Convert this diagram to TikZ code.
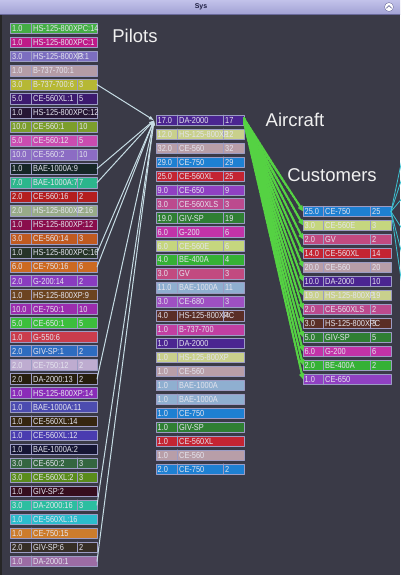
\documentclass[tikz,border=0pt]{standalone}
\usepackage{fontspec}
\setmainfont{Liberation Sans}
\newfontfamily\cellfont{Liberation Sans}[FakeStretch=0.84]
\usetikzlibrary{arrows.meta,calc,positioning}
% window
\definecolor{bg}{HTML}{3A3A47}
\definecolor{bartop}{HTML}{C2C2EA}
\definecolor{barbot}{HTML}{A2A2D4}
\definecolor{barline}{HTML}{6A6A9C}
\definecolor{bartext}{HTML}{1C1C40}
\definecolor{cellline}{HTML}{9C9CC4}
\definecolor{celltxt}{HTML}{E4E4EE}
\definecolor{crewlink}{HTML}{C6DCE4}
\definecolor{salegreen}{HTML}{55D243}
\definecolor{feedcyan}{HTML}{3CC2D2}
% aircraft types
\definecolor{tDA}{HTML}{4B2591}
\definecolor{tXP}{HTML}{C9D08C}
\definecolor{tCE560}{HTML}{B89EA8}
\definecolor{tCE750}{HTML}{1E80D2}
\definecolor{tXL}{HTML}{C42432}
\definecolor{tCE650}{HTML}{9040C2}
\definecolor{tXLS}{HTML}{BC4A8E}
\definecolor{tGIV}{HTML}{2F7F33}
\definecolor{tG200}{HTML}{C233A8}
\definecolor{tCE560E}{HTML}{C5D67E}
\definecolor{tBE400}{HTML}{35B135}
\definecolor{tGV}{HTML}{C24A80}
\definecolor{tBAE}{HTML}{8FAFD0}
\definecolor{tCE680}{HTML}{9E50C2}
\definecolor{tXPC}{HTML}{5A2E26}
\definecolor{tB737}{HTML}{C13FA2}
% pilots
\definecolor{leaf}{HTML}{44AE44}
\definecolor{berry}{HTML}{BE1A88}
\definecolor{iris}{HTML}{7C6EC0}
\definecolor{rosegray}{HTML}{B49CA6}
\definecolor{mustard}{HTML}{B6B834}
\definecolor{plum}{HTML}{3C1A6E}
\definecolor{ink}{HTML}{261634}
\definecolor{moss}{HTML}{7C9E2C}
\definecolor{orchid}{HTML}{CA4CB0}
\definecolor{amethyst}{HTML}{8C6CC4}
\definecolor{pine}{HTML}{162626}
\definecolor{jade}{HTML}{2CB68C}
\definecolor{brick}{HTML}{B41E1E}
\definecolor{sage}{HTML}{98AA88}
\definecolor{wine}{HTML}{8A0E4C}
\definecolor{rust}{HTML}{C05A20}
\definecolor{slate}{HTML}{263428}
\definecolor{tangerine}{HTML}{CC6A22}
\definecolor{violet}{HTML}{8A3CC0}
\definecolor{umber}{HTML}{6C4420}
\definecolor{grape}{HTML}{9C2CAE}
\definecolor{lime}{HTML}{3CBE3C}
\definecolor{coral}{HTML}{CA3C4C}
\definecolor{cobalt}{HTML}{2E6CC0}
\definecolor{lilac}{HTML}{BEACD0}
\definecolor{soot}{HTML}{261E0E}
\definecolor{purple}{HTML}{8A2CB8}
\definecolor{indigo}{HTML}{4C4CB0}
\definecolor{bark}{HTML}{362610}
\definecolor{blueviolet}{HTML}{4A3CB0}
\definecolor{navy}{HTML}{161634}
\definecolor{fern}{HTML}{346640}
\definecolor{grass}{HTML}{5A8C1C}
\definecolor{maroon}{HTML}{360E1E}
\definecolor{teal}{HTML}{2CBEA0}
\definecolor{aqua}{HTML}{2CBCCC}
\definecolor{tan}{HTML}{CC7C2C}
\definecolor{smoke}{HTML}{362E26}
\definecolor{mauve}{HTML}{9C6CA4}

\begin{document}
\begin{tikzpicture}[x=1pt,y=-1pt,>=Latex,line cap=round,line join=round]
  \tikzset{cell/.style={draw=cellline,line width=0.6pt,minimum width=87pt,minimum height=10.5pt,inner sep=0pt,outer sep=0pt},
    celltext/.style={anchor=west,inner sep=0pt,text=celltxt,font=\cellfont\fontsize{8.8}{8.8}\selectfont,text height=6.3pt,text depth=0pt},
    divline/.style={draw=cellline,line width=0.6pt},
    heading/.style={text=white!94!black,font=\fontsize{18.5}{18.5}\selectfont},
    crew/.style={draw=crewlink,line width=1pt,-{Latex[length=5pt,width=4pt]}},
    sale/.style={draw=salegreen,line width=1.9pt,dash pattern=on 2.6pt off 0.9pt,-{Latex[length=5pt,width=5.5pt]}},
    feed/.style={draw=feedcyan,line width=0.8pt}}
  \useasboundingbox (0,0) rectangle (400,575);
  \fill[bg] (0,0) rectangle (400,575);
  \fill[black!85] (0,14) rectangle (2,575);
  % title bar
  \shade[top color=bartop,bottom color=barbot] (0,0) rectangle (400,14);
  \draw[barline] (0,14) -- (400,14);
  \node[font=\bfseries\fontsize{7}{7}\selectfont,text=bartext] (sys) at (201,7) {Sys};
  \node[circle,draw=barline,fill=white,minimum size=9pt,inner sep=0pt] (hide) at (389,7) {};
  \draw[barline,line width=0.8pt] ([shift={(-2.5,1.2)}]hide.center) -- ([shift={(0,-1.4)}]hide.center) -- ([shift={(2.5,1.2)}]hide.center);
  % headings
  \node[heading] (pilotsL) at (135,35.5) {Pilots};
  \node[heading] (aircraftL) at (295,120) {Aircraft};
  \node[heading] (customersL) at (332,175) {Customers};
  % Pilots
  \foreach \i/\col/\val/\lbl/\cnt in {1/leaf/1.0/HS-125-800XPC:14/{},2/berry/1.0/HS-125-800XPC:1/{},3/iris/3.0/HS-125-800XP:1/3,4/rosegray/1.0/B-737-700:1/{},5/mustard/3.0/B-737-700:6/3,6/plum/5.0/CE-560XL:1/5,7/ink/1.0/HS-125-800XPC:12/{},8/moss/10.0/CE-560:1/10,9/orchid/5.0/CE-560:12/5,10/amethyst/10.0/CE-560:2/10,11/pine/1.0/BAE-1000A:9/{},12/jade/7.0/BAE-1000A:7/7,13/brick/2.0/CE-560:16/2,14/sage/2.0/HS-125-800XP:16/2,15/wine/1.0/HS-125-800XP:12/{},16/rust/3.0/CE-560:14/3,17/slate/1.0/HS-125-800XPC:16/{},18/tangerine/6.0/CE-750:16/6,19/violet/2.0/G-200:14/2,20/umber/1.0/HS-125-800XP:9/{},21/grape/10.0/CE-750:1/10,22/lime/5.0/CE-650:1/5,23/coral/1.0/G-550:6/{},24/cobalt/2.0/GIV-SP:1/2,25/lilac/2.0/CE-750:12/2,26/soot/2.0/DA-2000:13/2,27/purple/1.0/HS-125-800XP:14/{},28/indigo/1.0/BAE-1000A:11/{},29/bark/1.0/CE-560XL:14/{},30/blueviolet/1.0/CE-560XL:12/{},31/navy/1.0/BAE-1000A:2/{},32/fern/3.0/CE-650:2/3,33/grass/3.0/CE-560XL:2/3,34/maroon/1.0/GIV-SP:2/{},35/teal/3.0/DA-2000:16/3,36/aqua/1.0/CE-560XL:16/{},37/tan/1.0/CE-750:15/{},38/smoke/2.0/GIV-SP:6/2,39/mauve/1.0/DA-2000:1/{}}{
    \node[cell,fill=\col] (p\i) at (53.5,{28.5+(\i-1)*14.02}) {};
    \draw[divline] ([xshift=21pt]p\i.north west) -- ([xshift=21pt]p\i.south west);
    \ifx\cnt\empty\else\draw[divline] ([xshift=-20pt]p\i.north east) -- ([xshift=-20pt]p\i.south east);\fi
    \node[celltext] at ([xshift=2pt]p\i.west) {\val};
    \node[celltext] at ([xshift=23pt]p\i.west) {\lbl};
    \node[celltext] at ([xshift=-18pt]p\i.east) {\cnt};
  }
  % Aircraft
  \foreach \i/\col/\val/\lbl/\cnt in {1/tDA/17.0/DA-2000/17,2/tXP/12.0/HS-125-800XP/12,3/tCE560/32.0/CE-560/32,4/tCE750/29.0/CE-750/29,5/tXL/25.0/CE-560XL/25,6/tCE650/9.0/CE-650/9,7/tXLS/3.0/CE-560XLS/3,8/tGIV/19.0/GIV-SP/19,9/tG200/6.0/G-200/6,10/tCE560E/6.0/CE-560E/6,11/tBE400/4.0/BE-400A/4,12/tGV/3.0/GV/3,13/tBAE/11.0/BAE-1000A/11,14/tCE680/3.0/CE-680/3,15/tXPC/4.0/HS-125-800XPC/4,16/tB737/1.0/B-737-700/{},17/tDA/1.0/DA-2000/{},18/tXP/1.0/HS-125-800XP/{},19/tCE560/1.0/CE-560/{},20/tBAE/1.0/BAE-1000A/{},21/tBAE/1.0/BAE-1000A/{},22/tCE750/1.0/CE-750/{},23/tGIV/1.0/GIV-SP/{},24/tXL/1.0/CE-560XL/{},25/tCE560/1.0/CE-560/{},26/tCE750/2.0/CE-750/2}{
    \node[cell,fill=\col,minimum width=88pt] (a\i) at (200,{120.3+(\i-1)*13.95}) {};
    \draw[divline] ([xshift=21pt]a\i.north west) -- ([xshift=21pt]a\i.south west);
    \ifx\cnt\empty\else\draw[divline] ([xshift=-21pt]a\i.north east) -- ([xshift=-21pt]a\i.south east);\fi
    \node[celltext] at ([xshift=1.5pt]a\i.west) {\val};
    \node[celltext] at ([xshift=23pt]a\i.west) {\lbl};
    \node[celltext] at ([xshift=-19pt]a\i.east) {\cnt};
  }
  % Customers
  \foreach \i/\col/\val/\lbl/\cnt in {1/tCE750/25.0/CE-750/25,2/tCE560E/3.0/CE-560E/3,3/tGV/2.0/GV/2,4/tXL/14.0/CE-560XL/14,5/tCE560/20.0/CE-560/20,6/tDA/10.0/DA-2000/10,7/tXP/19.0/HS-125-800XP/19,8/tXLS/2.0/CE-560XLS/2,9/tXPC/3.0/HS-125-800XPC/3,10/tGIV/5.0/GIV-SP/5,11/tG200/6.0/G-200/6,12/tBE400/2.0/BE-400A/2,13/tCE650/1.0/CE-650/{}}{
    \node[cell,fill=\col,minimum width=88pt] (c\i) at (347,{211.5+(\i-1)*14}) {};
    \draw[divline] ([xshift=20pt]c\i.north west) -- ([xshift=20pt]c\i.south west);
    \ifx\cnt\empty\else\draw[divline] ([xshift=-21pt]c\i.north east) -- ([xshift=-21pt]c\i.south east);\fi
    \node[celltext] at ([xshift=1.5pt]c\i.west) {\val};
    \node[celltext] at ([xshift=22pt]c\i.west) {\lbl};
    \node[celltext] at ([xshift=-19pt]c\i.east) {\cnt};
  }
  % links
  \foreach \i in {5,11,12,17,18,26,35,39}{\draw[crew] (p\i.east) -- ([xshift=-2pt]a1.west);}
  \foreach \i in {1,...,13}{
    \draw[sale] ([yshift=2pt]a1.east) -- (c\i.west);
    \draw[sale] ([yshift=-2pt]a1.east) -- ([yshift=1pt]c\i.west);
  }
  \foreach \k/\y in {1/150,2/172,3/196,4/232,5/262,6/298}{
    \coordinate (out\k) at (404,\y);
    \draw[feed] (c1.east) -- (out\k);
  }
\end{tikzpicture}
\end{document}
